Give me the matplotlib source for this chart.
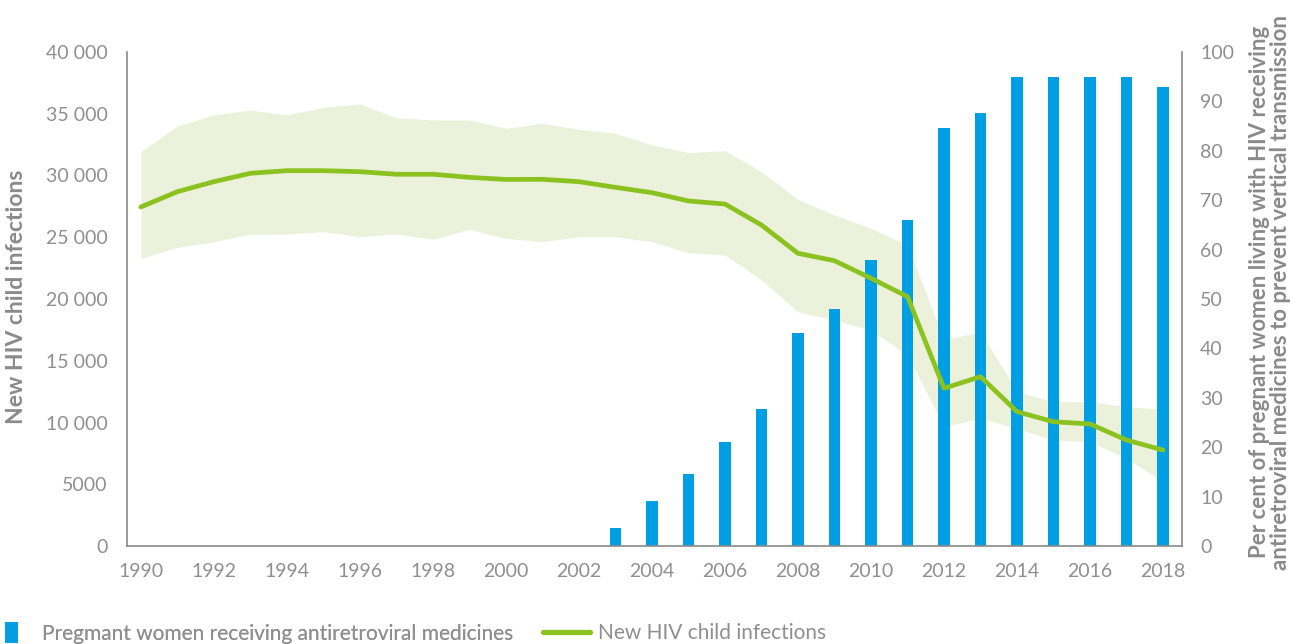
import matplotlib
matplotlib.use("Agg")
import matplotlib.pyplot as plt
from matplotlib.patches import Patch
from matplotlib.lines import Line2D
from matplotlib.ticker import FuncFormatter

years = list(range(1990, 2019))
infections = [27450, 28690, 29500, 30180, 30390, 30390, 30310, 30100, 30100, 29850,
              29680, 29690, 29500, 29040, 28610, 27940, 27690, 25990, 23700, 23100,
              21680, 20190, 12770, 13710, 10880, 10060, 9880, 8580, 7770]
upper = [31930, 34010, 34900, 35300, 34900, 35520, 35790, 34680, 34490, 34490,
         33820, 34230, 33740, 33420, 32470, 31850, 32010, 30310, 28070, 26800,
         25720, 24370, 16680, 17350, 12500, 11690, 11690, 11280, 11070]
lower = [23290, 24180, 24640, 25260, 25260, 25450, 25050, 25260, 24830, 25640,
         24910, 24640, 25050, 25050, 24640, 23750, 23560, 21540, 18970, 18300,
         17490, 15470, 9660, 10340, 9530, 8580, 8450, 7100, 5210]

bar_years = list(range(2003, 2019))
coverage = [3.6, 9.2, 14.6, 21.1, 27.7, 43.1, 48.0, 57.9, 65.9, 84.7, 87.7,
            95, 95, 95, 95, 92.9]

x_ticks = list(range(1990, 2019, 2))
left_ticks = list(range(0, 40001, 5000))
right_ticks = list(range(0, 101, 10))

GREY = "#8f8f8f"
LABEL_GREY = "#8a8a8a"
BLUE = "#009fe3"
GREEN = "#8cc21f"
BAND = "#ecf1db"

plt.rcParams['font.family'] = ['Lato', 'DejaVu Sans']

fig = plt.figure(figsize=(13.06, 6.44), dpi=100)
ax = fig.add_axes([127/1306, 1-546/644, (1182-127)/1306, (546-52)/644])
ax2 = ax.twinx()

ax.set_zorder(ax2.get_zorder() + 1)
ax.patch.set_visible(False)

ax.set_xlim(1989.62, 2018.52)
ax.set_ylim(0, 40000)
ax2.set_ylim(0, 100)

# band (scaled to right axis so it sits below the bars), bars, line
scale = 40000 / 100
ax2.fill_between(years, [v / scale for v in lower], [v / scale for v in upper],
                 color=BAND, lw=0, zorder=0)
ax2.bar(bar_years, coverage, width=0.32, color=BLUE, zorder=1)
ax.plot(years, infections, color=GREEN, lw=3.4, solid_capstyle='round', zorder=2)

ax.set_xticks(x_ticks)
ax.set_yticks(left_ticks)
ax2.set_yticks(right_ticks)

def fmt(v, pos):
    v = int(v)
    if v >= 10000:
        return f"{v:,}".replace(",", " ")
    return str(v)

ax.yaxis.set_major_formatter(FuncFormatter(fmt))

for a in (ax, ax2):
    a.tick_params(length=0, labelsize=14, labelcolor=GREY)
    for s in a.spines.values():
        s.set_visible(False)
ax.tick_params(axis='y', pad=14)
ax.tick_params(axis='x', pad=12)
ax2.tick_params(axis='y', pad=13)

ax.spines['left'].set_visible(True)
ax.spines['bottom'].set_visible(True)
ax2.spines['right'].set_visible(True)
for s in (ax.spines['left'], ax.spines['bottom'], ax2.spines['right']):
    s.set_color("#8a8a8a")
    s.set_linewidth(1.2)

fig.text(17/1306, 1-297/644, "New HIV child infections", rotation=90,
         ha='center', va='center', fontsize=16.5, fontweight='bold', color=LABEL_GREY)
fig.text(1270/1306, 1-292/644,
         "Per cent of pregnant women living with HIV receiving\nantiretroviral medicines to prevent vertical transmission",
         rotation=90, ha='center', va='center', fontsize=16, fontweight='bold',
         color=LABEL_GREY, linespacing=1.05)

leg1 = fig.legend([Patch(facecolor=BLUE, edgecolor='none')],
                  ["Pregmant women receiving antiretroviral medicines"],
                  loc='center left', bbox_to_anchor=(5/1306, 1-633/644),
                  frameon=False, fontsize=15, labelcolor=GREY,
                  handlelength=0.62, handleheight=1.15, handletextpad=1.15,
                  borderaxespad=0, borderpad=0)
fig.add_artist(leg1)
leg2 = fig.legend([Line2D([0], [0], color=GREEN, lw=3.8, solid_capstyle='round')],
                  ["New HIV child infections"],
                  loc='center left', bbox_to_anchor=(543/1306, 1-633/644),
                  frameon=False, fontsize=15, labelcolor=GREY,
                  handlelength=2.25, handletextpad=0.4,
                  borderaxespad=0, borderpad=0)

fig.savefig("out.png", dpi=100)
